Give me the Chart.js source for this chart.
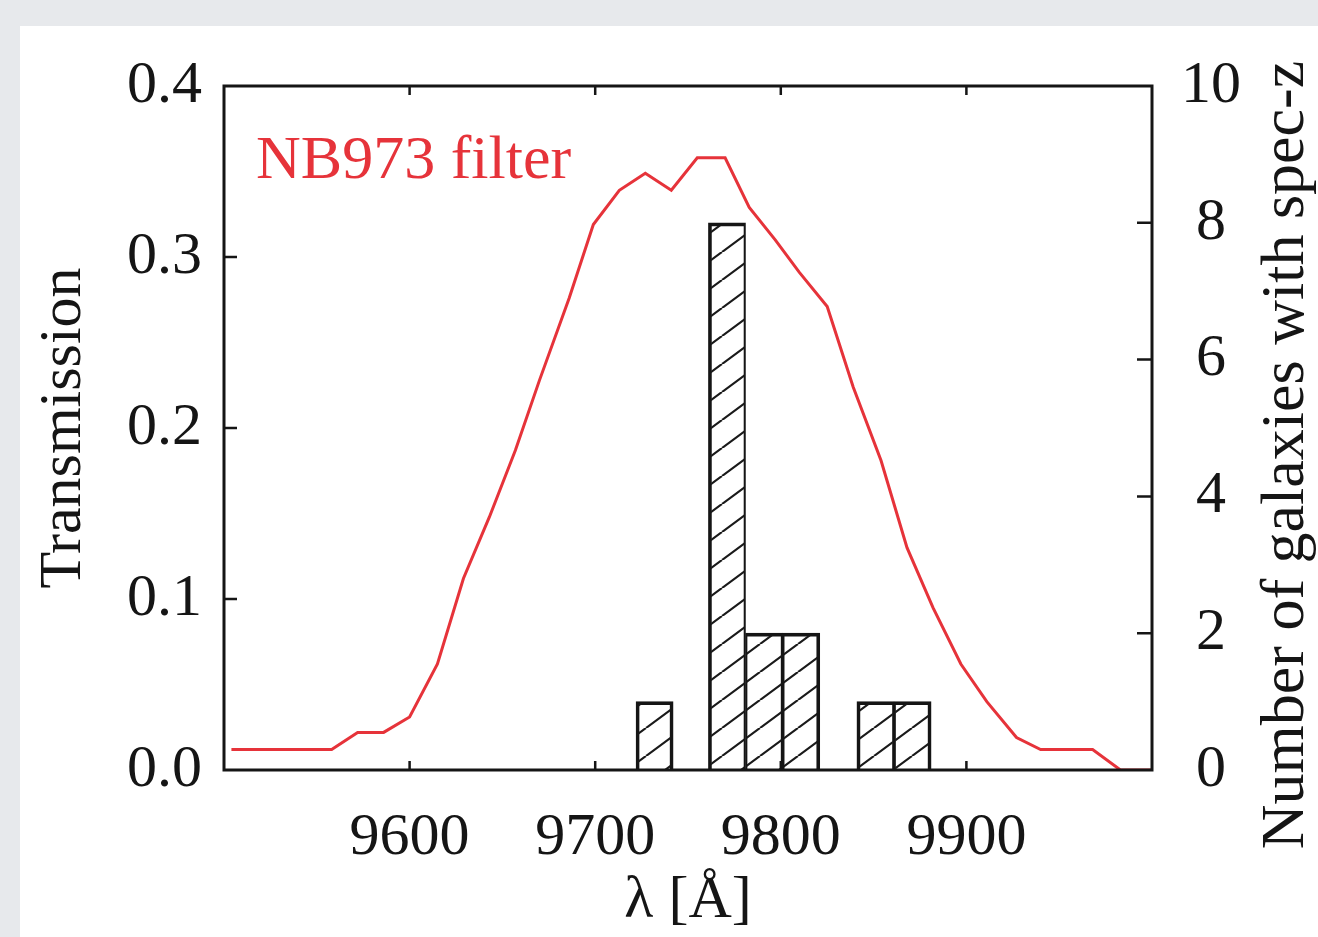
<!DOCTYPE html>
<html lang="en">
<head>
<meta charset="UTF-8">
<title>NB973 filter</title>
<script src="https://cdn.jsdelivr.net/npm/chart.js"></script>
<style>
  html, body { margin: 0; padding: 0; background: #e7e9ec; overflow: hidden; }
  #panel { position: absolute; left: 20px; top: 26px; width: 1298px; height: 911px; background: #fff; }
  #chart { position: absolute; left: 0; top: 0; }
</style>
</head>
<body>
<div id="panel"></div>
<canvas id="chart" width="1318" height="937"></canvas>
<script>
// filter curve
const wavelength = [9504, 9558, 9572, 9586, 9600, 9615, 9629, 9643, 9657, 9670, 9686, 9699, 9713, 9727, 9741, 9755,
                    9770, 9783, 9797, 9810, 9825, 9839, 9854, 9868, 9882, 9897, 9911, 9927, 9940, 9968, 9983, 10000];
const transmission = [0.012, 0.012, 0.022, 0.022, 0.031, 0.062, 0.112, 0.148, 0.187, 0.228, 0.276, 0.319, 0.339, 0.349, 0.339, 0.358,
                      0.358, 0.329, 0.310, 0.291, 0.271, 0.224, 0.181, 0.130, 0.095, 0.062, 0.040, 0.019, 0.012, 0.012, 0.0, 0.0];

// spec-z histogram
const binCenters = [9732, 9771, 9791, 9811, 9851, 9871];
const galaxyCounts = [1, 8, 2, 2, 1, 1];

const xTicks = [9600, 9700, 9800, 9900];
const serif = '"Liberation Serif", "DejaVu Serif", serif';
const ink = '#151515';
const red = '#e6333a';

// hatch pattern ///
function hatch() {
    const c = document.createElement('canvas');
    c.width = 38; c.height = 28;
    const g = c.getContext('2d');
    g.strokeStyle = '#1a1a1a';
    g.lineWidth = 2.2;
    g.beginPath();
    g.moveTo(0, 28); g.lineTo(38, 0);
    g.moveTo(-38, 28); g.lineTo(0, 0);
    g.moveTo(38, 28); g.lineTo(76, 0);
    g.stroke();
    return g.createPattern(c, 'repeat');
}

// neighbouring bins share one edge, so only half a border each side there
function barBorder(ctx) {
    const i = ctx.dataIndex;
    const gap = 25;
    const leftN = i > 0 && binCenters[i] - binCenters[i - 1] < gap;
    const rightN = i < binCenters.length - 1 && binCenters[i + 1] - binCenters[i] < gap;
    return { top: 3, bottom: 0, left: leftN ? 1.5 : 3, right: rightN ? 1.5 : 3 };
}

const framePlugin = {
    id: 'frame',
    afterDraw(chart) {
        const {ctx, chartArea: a, scales} = chart;
        ctx.save();
        ctx.strokeStyle = ink;
        ctx.lineWidth = 2.5;
        ctx.beginPath();
        xTicks.forEach(v => {
            const px = scales.x.getPixelForValue(v);
            ctx.moveTo(px, a.bottom); ctx.lineTo(px, a.bottom - 9);
            ctx.moveTo(px, a.top); ctx.lineTo(px, a.top + 9);
        });
        scales.y.ticks.forEach(t => {
            if (t.value <= 0 || t.value >= 0.4 - 1e-9) return;
            const py = scales.y.getPixelForValue(t.value);
            ctx.moveTo(a.left, py); ctx.lineTo(a.left + 13, py);
        });
        scales.y2.ticks.forEach(t => {
            if (t.value <= 0 || t.value >= 10) return;
            const py = scales.y2.getPixelForValue(t.value);
            ctx.moveTo(a.right, py); ctx.lineTo(a.right - 15, py);
        });
        ctx.stroke();
        ctx.lineWidth = 3;
        ctx.strokeRect(a.left, a.top, a.right - a.left, a.bottom - a.top);

        // label inside the plot
        ctx.fillStyle = red;
        ctx.font = '62px ' + serif;
        ctx.textAlign = 'left';
        ctx.textBaseline = 'alphabetic';
        ctx.fillText('NB973 filter', a.left + 32, a.top + 92);

        // right axis title, reading upward
        ctx.fillStyle = ink;
        ctx.font = '62px ' + serif;
        ctx.textAlign = 'center';
        ctx.textBaseline = 'middle';
        ctx.translate(a.right + 135, (a.top + a.bottom) / 2 + 27);
        ctx.rotate(-Math.PI / 2);
        ctx.fillText('Number of galaxies with spec-z', 0, 0);
        ctx.restore();
    }
};

new Chart(document.getElementById('chart'), {
    type: 'bar',
    data: {
        datasets: [{
            type: 'line',
            label: 'NB973 filter',
            data: wavelength.map((w, i) => ({x: w, y: transmission[i]})),
            yAxisID: 'y',
            borderColor: red,
            borderWidth: 3,
            pointRadius: 0,
            tension: 0,
            fill: false
        }, {
            type: 'bar',
            label: 'spec-z',
            data: binCenters.map((c, i) => ({x: c, y: galaxyCounts[i]})),
            yAxisID: 'y2',
            backgroundColor: hatch(),
            borderColor: ink,
            borderWidth: barBorder,
            borderSkipped: false,
            barPercentage: 1,
            categoryPercentage: 1,
            grouped: false
        }]
    },
    options: {
        responsive: false,
        animation: false,
        devicePixelRatio: 1,
        layout: { padding: { top: 86, left: 0, right: 0, bottom: 0 } },
        plugins: { legend: { display: false }, tooltip: { enabled: false } },
        scales: {
            x: {
                type: 'linear',
                position: 'bottom',
                min: 9500,
                max: 10000,
                offset: false,
                grid: { display: false, offset: false },
                border: { display: false },
                ticks: {
                    stepSize: 100,
                    autoSkip: false,
                    maxRotation: 0,
                    padding: 24,
                    color: ink,
                    font: { family: serif, size: 60, lineHeight: 1.2 },
                    callback: v => xTicks.includes(v) ? String(v) : ''
                },
                title: {
                    display: true,
                    text: 'λ [Å]',
                    color: ink,
                    padding: { top: 0, bottom: 0 },
                    font: { family: serif, size: 60, lineHeight: 1.2 }
                },
                afterFit: s => { s.height = 167; }
            },
            y: {
                position: 'left',
                min: 0,
                max: 0.4,
                grid: { display: false },
                border: { display: false },
                ticks: {
                    stepSize: 0.1,
                    padding: 14,
                    color: ink,
                    font: { family: serif, size: 60, lineHeight: 1.2 },
                    callback: v => v.toFixed(1)
                },
                title: {
                    display: true,
                    text: 'Transmission',
                    color: ink,
                    padding: { top: 28, bottom: 0 },
                    font: { family: serif, size: 60, lineHeight: 1.2 }
                },
                afterFit: s => { s.width = 224; }
            },
            y2: {
                position: 'right',
                min: 0,
                max: 10,
                grid: { display: false },
                border: { display: false },
                ticks: {
                    stepSize: 2,
                    padding: 21,
                    crossAlign: 'center',
                    color: ink,
                    font: { family: serif, size: 60, lineHeight: 1.2 }
                },
                afterFit: s => { s.width = 166; }
            }
        }
    },
    plugins: [framePlugin]
});
</script>
</body>
</html>
